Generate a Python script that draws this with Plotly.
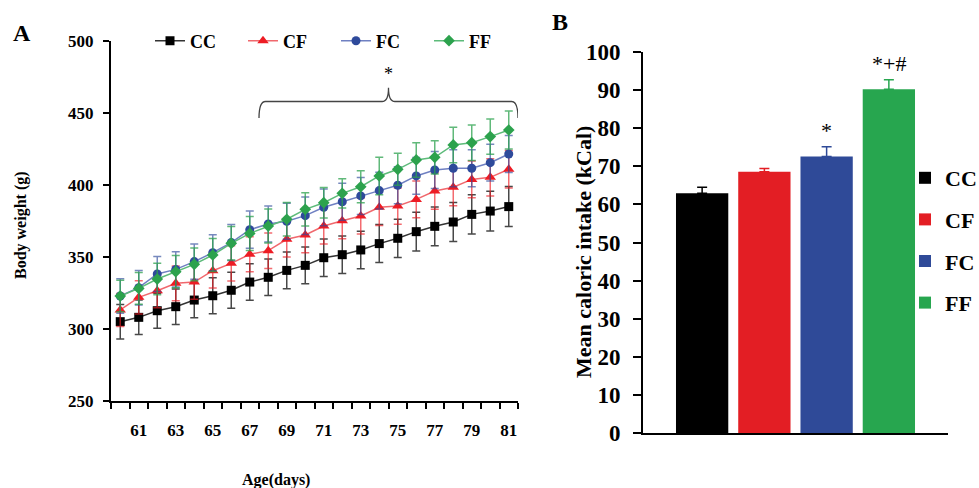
import plotly.graph_objects as go

# ---------------- Data ----------------
days = list(range(60, 82))
cc = [305.1, 308.1, 312.7, 315.5, 320.1, 323.1, 326.9, 332.6, 335.9, 340.7, 344.2,
      349.5, 351.6, 354.9, 359.3, 363.0, 367.6, 371.3, 374.3, 379.6, 381.9, 385.0]
cf = [313.2, 322.0, 326.6, 331.7, 332.6, 340.5, 345.6, 351.9, 354.4, 362.3, 365.3,
      371.5, 375.2, 378.5, 384.5, 385.4, 390.0, 395.8, 398.4, 403.9, 405.3, 410.9]
fc = [322.9, 328.7, 338.2, 341.4, 346.8, 353.0, 360.0, 369.0, 372.9, 374.8, 378.7,
      384.5, 388.4, 392.4, 396.1, 399.8, 406.3, 410.4, 411.6, 411.6, 415.5, 421.5]
ff = [322.9, 328.2, 334.7, 339.8, 344.9, 351.4, 359.5, 366.4, 371.5, 376.2, 383.1,
      387.7, 394.2, 398.8, 406.3, 410.9, 417.4, 419.2, 427.8, 429.4, 433.6, 438.2]
cc_sd = [12.0, 12.0, 12.2, 12.3, 12.3, 12.5, 12.5, 12.7, 12.7, 12.8, 12.8,
         13.0, 13.0, 13.0, 13.2, 13.3, 13.4, 13.5, 13.6, 13.7, 13.8, 13.9]
cf_sd = [11.5, 11.5, 11.8, 12.0, 12.0, 12.0, 12.2, 12.2, 12.3, 12.3, 12.4,
         12.4, 12.5, 12.5, 12.6, 12.6, 12.7, 12.7, 12.8, 12.8, 12.9, 13.0]
fc_sd = [12.0, 12.0, 12.2, 12.2, 12.3, 12.5, 12.5, 13.0, 12.5, 12.5, 13.0,
         12.8, 12.8, 12.8, 12.8, 12.8, 12.8, 12.8, 12.8, 12.8, 12.8, 12.8]
ff_sd = [11.0, 11.0, 11.0, 11.2, 11.4, 11.5, 11.6, 11.8, 11.8, 11.6, 11.6,
         10.6, 10.2, 11.1, 13.0, 11.1, 12.0, 11.6, 12.3, 12.3, 12.3, 13.2]
x_tick_labels = [61, 63, 65, 67, 69, 71, 73, 75, 77, 79, 81]
y_ticks_a = [250, 300, 350, 400, 450, 500]

groups = ["CC", "CF", "FC", "FF"]
intake = [62.9, 68.6, 72.6, 90.2]
intake_err = [1.6, 0.8, 2.5, 2.5]
signif = ["", "", "*", "*+#"]
y_ticks_b = list(range(0, 101, 10))

# brace for the significance bracket (in day units)
brace_start, brace_end = 67.5, 81.5

# ---------------- Style ----------------
FONT = "Liberation Serif"
W, H = 979, 488
def px(x):
    return x / W
def py(y):
    return 1 - y / H

marker_cols = {"CC": "#000000", "CF": "#ED1C24", "FC": "#2E4A9B", "FF": "#2CA24D"}
line_cols = {"CC": "#333333", "CF": "#F0686D", "FC": "#6F80C2", "FF": "#5DBB7A"}
err_cols = {"CC": "rgba(40,40,40,0.85)", "CF": "rgba(237,28,36,0.65)",
            "FC": "rgba(46,74,155,0.65)", "FF": "rgba(44,162,77,0.75)"}
symbols = {"CC": "square", "CF": "triangle-up", "FC": "circle", "FF": "diamond"}
sizes = {"CC": 9, "CF": 10, "FC": 9, "FF": 9}
bar_cols = {"CC": "#000000", "CF": "#E31E24", "FC": "#2F4A98", "FF": "#27A64F"}

fig = go.Figure()

series = {"CC": (cc, cc_sd), "CF": (cf, cf_sd), "FC": (fc, fc_sd), "FF": (ff, ff_sd)}
for name, (vals, sd) in series.items():
    fig.add_trace(go.Scatter(
        x=days, y=vals, name=f"<b>{name}</b>", mode="lines+markers",
        line=dict(color=line_cols[name], width=1.5),
        marker=dict(symbol=symbols[name], size=sizes[name], color=marker_cols[name]),
        error_y=dict(type="data", array=sd, visible=True, color=err_cols[name],
                     thickness=1.5, width=4),
        xaxis="x", yaxis="y", legend="legend",
    ))

for i, g in enumerate(groups):
    fig.add_trace(go.Bar(
        x=[g], y=[intake[i]], name=f"<b>{g}</b>", width=0.84,
        marker=dict(color=bar_cols[g], line=dict(width=0)),
        error_y=dict(type="data", symmetric=False, array=[intake_err[i]], arrayminus=[0],
                     color=bar_cols[g], thickness=1.5, width=5),
        xaxis="x2", yaxis="y2", legend="legend2", legendgroup=g,
    ))

annotations = []
for i, g in enumerate(groups):
    if signif[i]:
        annotations.append(dict(
            x=g, y=intake[i] + intake_err[i], xref="x2", yref="y2", text=signif[i],
            showarrow=False, yanchor="bottom", yshift=2,
            font=dict(family=FONT, size=22, color="black"),
        ))

def label(x, y, text, size, angle=0):
    return dict(x=px(x), y=py(y), xref="paper", yref="paper", text=text, showarrow=False,
                xanchor="center", yanchor="middle", textangle=angle,
                font=dict(family=FONT, size=size, color="black"))

annotations += [
    dict(x=(brace_start + brace_end) / 2, y=469, xref="x", yref="y", text="*",
         showarrow=False, yanchor="bottom", font=dict(family=FONT, size=18, color="black")),
    label(22, 33, "<b>A</b>", 24),
    label(560, 22, "<b>B</b>", 24),
    label(21, 225, "<b>Body weight (g)</b>", 16, -90),
    label(276, 480, "<b>Age(days)</b>", 16),
    label(583, 252, "<b>Mean caloric intake (kCal)</b>", 22, -90),
]

xc = (brace_start + brace_end) / 2
by, bend, btip = 458, 446.5, 467.6
brace_path = (f"M {brace_start},{bend} Q {brace_start},{by} {brace_start+0.35},{by} "
              f"L {xc-0.35},{by} Q {xc},{by} {xc},{btip} Q {xc},{by} {xc+0.35},{by} "
              f"L {brace_end-0.35},{by} Q {brace_end},{by} {brace_end},{bend}")

fig.update_layout(
    width=W, height=H, margin=dict(l=0, r=0, t=0, b=0, autoexpand=False),
    paper_bgcolor="white", plot_bgcolor="white",
    barmode="overlay",
    font=dict(family=FONT, color="black"),
    annotations=annotations,
    shapes=[dict(type="path", path=brace_path, xref="x", yref="y",
                 line=dict(color="#444444", width=1.3))],
    xaxis=dict(
        domain=[px(111), px(518)], range=[59.5, 81.5], anchor="y",
        tickmode="array", tickvals=x_tick_labels, ticktext=[f"<b>{v}</b>" for v in x_tick_labels],
        ticks="outside", ticklen=13, tickcolor="rgba(0,0,0,0)",
        minor=dict(tickmode="linear", tick0=59.5, dtick=1, ticks="outside", ticklen=6,
                   tickwidth=2, tickcolor="black", showgrid=False),
        showline=True, linecolor="black", linewidth=2, showgrid=False, zeroline=False,
        tickfont=dict(family=FONT, size=17, color="black"),
    ),
    yaxis=dict(
        domain=[py(401), py(41)], range=[250, 500], anchor="x",
        tickmode="array", tickvals=y_ticks_a, ticktext=[f"<b>{v}</b>" for v in y_ticks_a],
        ticks="outside", ticklen=6, tickwidth=2, tickcolor="black", ticklabelstandoff=6,
        showline=True, linecolor="black", linewidth=2, showgrid=False, zeroline=False,
        tickfont=dict(family=FONT, size=17, color="black"),
    ),
    xaxis2=dict(
        domain=[px(643), px(948)], type="category", range=[-0.95, 3.95], anchor="y2",
        showticklabels=False, ticks="", showline=True, linecolor="black", linewidth=2,
        showgrid=False, zeroline=False,
    ),
    yaxis2=dict(
        domain=[py(433), py(52)], range=[0, 100], anchor="x2",
        tickmode="array", tickvals=y_ticks_b, ticktext=[f"<b>{v}</b>" for v in y_ticks_b],
        ticks="outside", ticklen=8, tickwidth=2, tickcolor="black", ticklabelstandoff=8,
        showline=True, linecolor="black", linewidth=2, showgrid=False, zeroline=False,
        tickfont=dict(family=FONT, size=23, color="black"),
    ),
    legend=dict(
        orientation="h", x=px(150), y=py(41), xanchor="left", yanchor="middle",
        bgcolor="rgba(0,0,0,0)", font=dict(family=FONT, size=18, color="black"),
        entrywidth=48, entrywidthmode="pixels", itemwidth=30,
    ),
    legend2=dict(
        orientation="v", x=px(905), y=py(157), xanchor="left", yanchor="top",
        bgcolor="rgba(0,0,0,0)", font=dict(family=FONT, size=22, color="black"),
        tracegroupgap=10, itemwidth=30,
    ),
)

fig.write_html("out.html", config={"displayModeBar": False},
               post_script="document.body.style.margin='0';document.body.style.overflow='hidden';")
